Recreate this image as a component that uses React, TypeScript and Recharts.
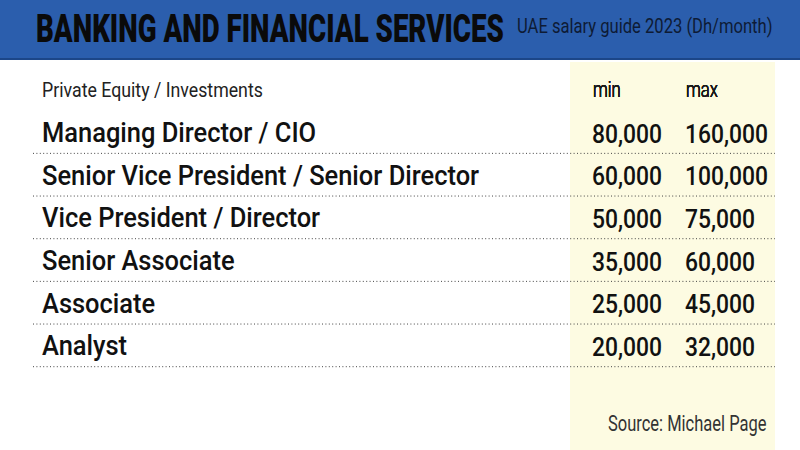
import React from "react";
import { ScatterChart, Scatter, XAxis, YAxis } from "recharts";

const title = "BANKING AND FINANCIAL SERVICES";
const subtitle = "UAE salary guide 2023 (Dh/month)";
const sectionLabel = "Private Equity / Investments";
const sourceNote = "Source: Michael Page";

const roles = [
  "Managing Director / CIO",
  "Senior Vice President / Senior Director",
  "Vice President / Director",
  "Senior Associate",
  "Associate",
  "Analyst",
];
const columns = ["min", "max"];
const minSalary = [80000, 60000, 50000, 35000, 25000, 20000];
const maxSalary = [160000, 100000, 75000, 60000, 45000, 32000];

const cells = roles.flatMap((role, i) => [
  { role, column: columns[0], value: minSalary[i] },
  { role, column: columns[1], value: maxSalary[i] },
]);

const W = 800;
const H = 450;
const PLOT_TOP = 110.7;
const PLOT_BOTTOM = 366.7;
const PLOT_LEFT = 569;
const PLOT_RIGHT = 755;
const ROW_H = (PLOT_BOTTOM - PLOT_TOP) / roles.length;
const XAXIS_H = 30;
const FONT = "Roboto, 'Liberation Sans', sans-serif";

const RoleTick = (props: any) => {
  const { y, payload } = props;
  return (
    <g>
      <text
        transform={`translate(42, ${y + 10}) scale(0.91, 1)`}
        fontFamily={FONT}
        fontWeight={500}
        fontSize={28}
        fill="#111"
        textAnchor="start"
      >
        {payload.value}
      </text>
      <line
        x1={33}
        x2={775}
        y1={y + ROW_H / 2}
        y2={y + ROW_H / 2}
        stroke="#444"
        strokeWidth={1}
        strokeDasharray="1 2.4"
      />
    </g>
  );
};

const ColumnTick = (props: any) => {
  const { x, y, payload } = props;
  return (
    <text
      transform={`translate(${x - 22.5}, ${y - 13.7}) scale(0.76, 1)`}
      fontFamily={FONT}
      fontWeight={300}
      fontSize={22}
      fill="#1a1a1a"
      textAnchor="start"
    >
      {payload.value}
    </text>
  );
};

const ValueCell = (props: any) => {
  const { cx, cy, payload } = props;
  if (cx == null || cy == null) return null;
  return (
    <text
      transform={`translate(${cx - 23.5}, ${cy + 10.5}) scale(0.88, 1)`}
      fontFamily={FONT}
      fontWeight={500}
      fontSize={26}
      fill="#111"
      textAnchor="start"
    >
      {payload.value.toLocaleString("en-US")}
    </text>
  );
};

export default function App() {
  return (
    <div
      style={{
        position: "absolute",
        left: 0,
        top: 0,
        width: W,
        height: H,
        background: "#ffffff",
        overflow: "hidden",
      }}
    >
      <svg
        width={W}
        height={H}
        style={{ position: "absolute", left: 0, top: 0 }}
      >
        <rect x={0} y={0} width={W} height={58} fill="#2b5ead" />
        <rect x={0} y={58} width={W} height={2} fill="#1c4688" />
        <rect x={570} y={62} width={205} height={388} fill="#fdfbe2" />
        <text
          transform="translate(36, 42.3) scale(0.71, 1)"
          fontFamily={FONT}
          fontWeight={900}
          fontSize={39}
          fill="#0a0a0a"
        >
          {title}
        </text>
        <text
          transform="translate(517, 33.3) scale(0.83, 1)"
          fontFamily={FONT}
          fontWeight={400}
          fontSize={20}
          fill="#0e1b35"
        >
          {subtitle}
        </text>
        <text
          transform="translate(42, 97) scale(0.845, 1)"
          fontFamily={FONT}
          fontWeight={400}
          fontSize={21}
          fill="#222"
        >
          {sectionLabel}
        </text>
        <text
          transform="translate(608, 431) scale(0.75, 1)"
          fontFamily={FONT}
          fontWeight={400}
          fontSize={22}
          fill="#333"
        >
          {sourceNote}
        </text>
      </svg>
      <div style={{ position: "absolute", left: 0, top: 0 }}>
        <ScatterChart
          width={W}
          height={H}
          margin={{
            top: PLOT_TOP - XAXIS_H,
            right: W - PLOT_RIGHT,
            bottom: H - PLOT_BOTTOM,
            left: 0,
          }}
        >
          <XAxis
            xAxisId="col"
            type="category"
            dataKey="column"
            orientation="top"
            scale="band"
            allowDuplicatedCategory={false}
            height={XAXIS_H}
            axisLine={false}
            tickLine={false}
            tickSize={0}
            tickMargin={0}
            interval={0}
            tick={<ColumnTick />}
          />
          <YAxis
            yAxisId="role"
            type="category"
            dataKey="role"
            scale="band"
            reversed
            allowDuplicatedCategory={false}
            width={PLOT_LEFT}
            axisLine={false}
            tickLine={false}
            tickSize={0}
            tickMargin={0}
            interval={0}
            tick={<RoleTick />}
          />
          <Scatter
            xAxisId="col"
            yAxisId="role"
            data={cells}
            shape={<ValueCell />}
            isAnimationActive={false}
          />
        </ScatterChart>
      </div>
    </div>
  );
}
